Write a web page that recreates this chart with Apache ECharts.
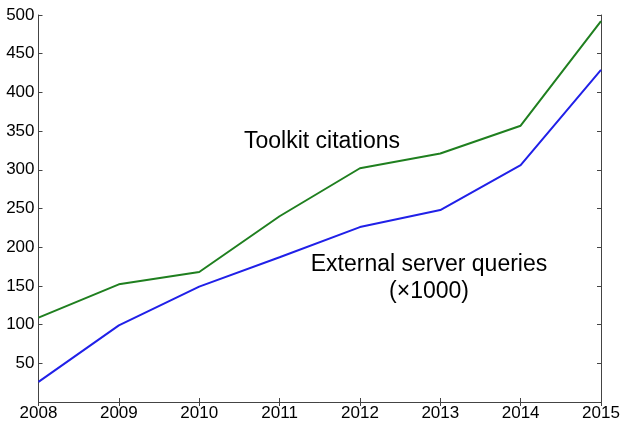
<!DOCTYPE html>
<html><head><meta charset="utf-8">
<script src="https://cdn.jsdelivr.net/npm/echarts@6/dist/echarts.min.js"></script>
<style>html,body{margin:0;padding:0;background:#fff}#c{width:629px;height:427px}</style>
</head><body><div id="c"></div>
<script>
const years = [2008, 2009, 2010, 2011, 2012, 2013, 2014, 2015];
const toolkitCitations = [109, 152, 168, 240, 302, 321, 357, 492];
const serverQueries = [26, 99, 149, 187, 226, 248, 306, 429];
const yTicks = [0, 50, 100, 150, 200, 250, 300, 350, 400, 450, 500];

const chart = echarts.init(document.getElementById('c'), null, {renderer: 'canvas'});
const font = 'Liberation Sans, Arial, sans-serif';
const axisLine = {show: true, lineStyle: {color: '#444', width: 1}};
const tick = {show: true, inside: true, length: 4, lineStyle: {color: '#444'}};
chart.setOption({
  animation: false,
  grid: {left: 38.5, right: 28, top: 15, bottom: 25, containLabel: false},
  xAxis: [
    {type: 'value', min: years[0], max: years[years.length - 1], interval: 1, position: 'bottom',
     axisLine, axisTick: tick, splitLine: {show: false},
     axisLabel: {color: '#000', fontSize: 17, fontFamily: font, margin: 3, formatter: v => String(v)}},
    {type: 'value', min: years[0], max: years[years.length - 1], interval: 1, position: 'top',
     axisLine, axisTick: tick, splitLine: {show: false}, axisLabel: {show: false}}
  ],
  yAxis: [
    {type: 'value', min: yTicks[0], max: yTicks[yTicks.length - 1], interval: 50, position: 'left',
     axisLine, axisTick: tick, splitLine: {show: false},
     axisLabel: {color: '#000', fontSize: 17, fontFamily: font, margin: 4, formatter: v => v === 0 ? '' : String(v)}},
    {type: 'value', min: yTicks[0], max: yTicks[yTicks.length - 1], interval: 50, position: 'right',
     axisLine, axisTick: tick, splitLine: {show: false}, axisLabel: {show: false}}
  ],
  series: [
    {type: 'line', data: years.map((y, i) => [y, toolkitCitations[i]]), showSymbol: false,
     lineStyle: {color: '#1f7f1f', width: 2}, itemStyle: {color: '#1f7f1f'}},
    {type: 'line', data: years.map((y, i) => [y, serverQueries[i]]), showSymbol: false,
     lineStyle: {color: '#2020e8', width: 2}, itemStyle: {color: '#2020e8'}}
  ],
  graphic: [
    {type: 'text', x: 322, y: 142, style: {text: 'Toolkit citations', fontSize: 23, fontFamily: font, fill: '#000', align: 'center', verticalAlign: 'middle'}},
    {type: 'text', x: 429, y: 265, style: {text: 'External server queries', fontSize: 23, fontFamily: font, fill: '#000', align: 'center', verticalAlign: 'middle'}},
    {type: 'text', x: 429, y: 292, style: {text: '(×1000)', fontSize: 23, fontFamily: font, fill: '#000', align: 'center', verticalAlign: 'middle'}}
  ]
});
</script></body></html>
